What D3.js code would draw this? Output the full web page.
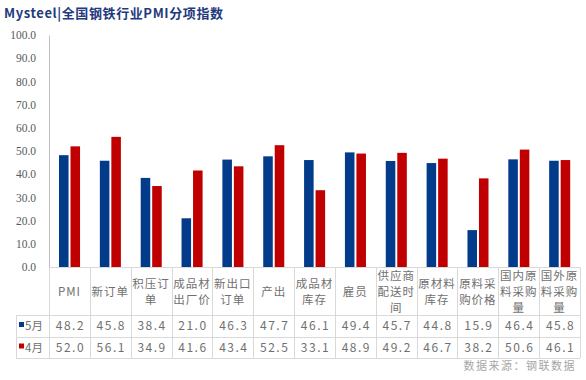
<!DOCTYPE html>
<html><head><meta charset="utf-8">
<script src="https://cdn.jsdelivr.net/npm/d3@7"></script>
<style>body{margin:0;background:#fff}svg{display:block}</style>
</head><body>
<svg id="c" width="586" height="380"></svg>
<script>
const categories = ["PMI","新订单","积压订单","成品材出厂价","新出口订单","产出","成品材库存","雇员","供应商配送时间","原材料库存","原料采购价格","国内原料采购量","国外原料采购量"];
const categoryLines = [["PMI"],["新订单"],["积压订","单"],["成品材","出厂价"],["新出口","订单"],["产出"],["成品材","库存"],["雇员"],["供应商","配送时","间"],["原材料","库存"],["原料采","购价格"],["国内原","料采购","量"],["国外原","料采购","量"]];
const seriesNames = ["5月","4月"];
const may = [48.2,45.8,38.4,21.0,46.3,47.7,46.1,49.4,45.7,44.8,15.9,46.4,45.8];
const apr = [52.0,56.1,34.9,41.6,43.4,52.5,33.1,48.9,49.2,46.7,38.2,50.6,46.1];
const yTicks = [0,10,20,30,40,50,60,70,80,90,100];
const title = "Mysteel|全国钢铁行业PMI分项指数";
const source = "数据来源：钢联数据";

(function(){
const colors = {"5月":"#013B8A","4月":"#C00000"};
const series = {"5月":may,"4月":apr};
const svg = d3.select("#c");
const pl = 49, pr = 580, pt = 35, base = 267;
const x = d3.scaleBand().domain(categories).range([pl,pr]).padding(0);
const bw = x.bandwidth();
const x1 = d3.scaleBand().domain(seriesNames).range([bw*0.245, bw*0.76]).paddingInner(0.17);
const y = d3.scaleLinear().domain([0,100]).range([base,pt]);

svg.append("text").attr("x",4).attr("y",18).text(title)
  .attr("font-family","'Noto Sans CJK SC'").attr("font-weight","bold").attr("font-size",13)
  .attr("letter-spacing",0.6).attr("fill","#1F3A7D");

const ya = svg.append("g").attr("transform",`translate(${pl},0)`)
  .call(d3.axisLeft(y).tickValues(yTicks).tickFormat(d3.format(".1f")).tickSize(0).tickPadding(13));
ya.select(".domain").attr("stroke","#BFBFBF");
ya.selectAll("text").attr("font-family","'Liberation Serif'").attr("font-size",11.5).attr("fill","#595959");

seriesNames.forEach(s=>{
  svg.append("g").selectAll("rect").data(categories).join("rect")
    .attr("x",d=>x(d)+x1(s)).attr("width",x1.bandwidth())
    .attr("y",(d,i)=>y(series[s][i])).attr("height",(d,i)=>base-y(series[s][i]))
    .attr("fill",colors[s]);
});

const g = svg.append("g");
const lineC = "#D9D9D9";
const txtC = "#707070";
const rowY = [base, 315, 337, 358];
g.append("line").attr("x1",pl).attr("x2",pr).attr("y1",base+0.5).attr("y2",base+0.5).attr("stroke",lineC);
[315,337,358].forEach(v=>g.append("line").attr("x1",16).attr("x2",pr).attr("y1",v+0.5).attr("y2",v+0.5).attr("stroke",lineC));
g.append("line").attr("x1",16.5).attr("x2",16.5).attr("y1",315).attr("y2",358).attr("stroke",lineC);
categories.concat([null]).forEach((c,i)=>{
  const xx = c===null ? pr : x(c);
  g.append("line").attr("x1",Math.round(xx)+0.5).attr("x2",Math.round(xx)+0.5).attr("y1",base).attr("y2",358).attr("stroke",lineC);
});
const tf = "'Noto Sans CJK SC'";
categories.forEach((c,i)=>{
  const lines = categoryLines[i];
  const cy = 292 - (lines.length-1)*8;
  lines.forEach((t,j)=>{
    g.append("text").attr("x",x(c)+bw/2).attr("y",cy+j*16).attr("dy","0.35em")
      .attr("text-anchor","middle").attr("font-family",tf).attr("font-size",11.5)
      .attr("letter-spacing",1).attr("fill",txtC).text(t);
  });
});
seriesNames.forEach((s,k)=>{
  const cy = (rowY[k+1]+rowY[k+2])/2;
  g.append("rect").attr("x",19).attr("y",cy-4).attr("width",5).attr("height",5).attr("fill",colors[s]);
  g.append("text").attr("x",25).attr("y",cy).attr("dy","0.35em").attr("font-family",tf)
    .attr("font-size",11.5).attr("fill",txtC).text(s);
  categories.forEach((c,i)=>{
    g.append("text").attr("x",x(c)+bw/2+1).attr("y",cy).attr("dy","0.35em").attr("text-anchor","middle")
      .attr("font-family",tf).attr("font-size",12).attr("letter-spacing",1.5).attr("fill",txtC)
      .text(d3.format(".1f")(series[s][i]));
  });
});
svg.append("text").attr("x",576).attr("y",366).attr("dy","0.35em").attr("text-anchor","end")
  .attr("font-family",tf).attr("font-size",11).attr("letter-spacing",1.5).attr("fill","#A6A6A6").text(source);
})();
</script>
</body></html>
